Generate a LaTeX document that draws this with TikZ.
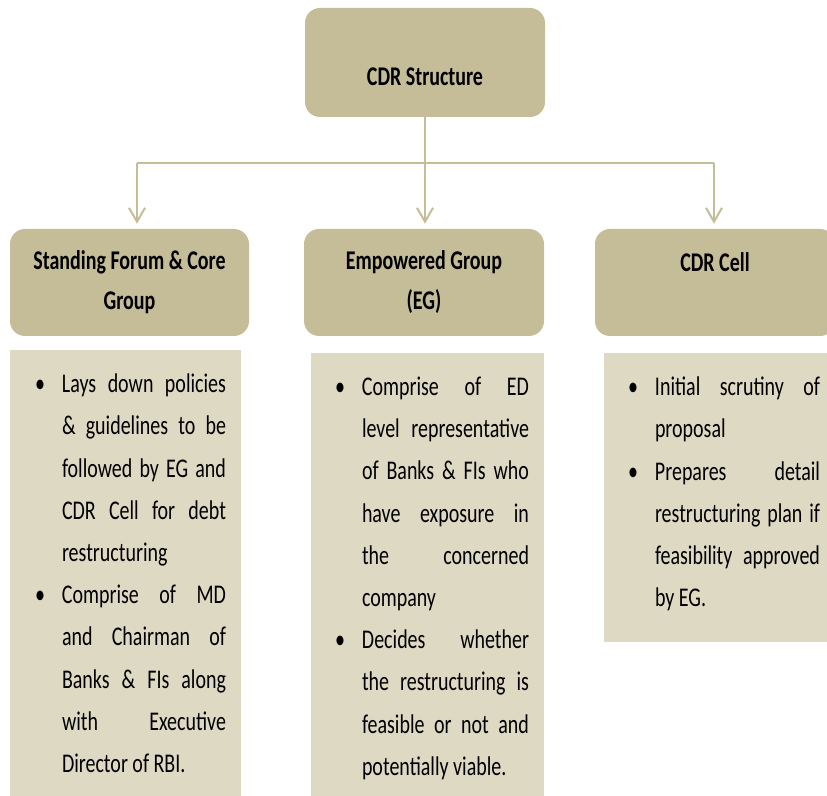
\documentclass[tikz,border=0pt]{standalone}
\usepackage{fontspec}
\setmainfont{Carlito}[FakeStretch=0.74]
\usetikzlibrary{arrows.meta}
\definecolor{hdrtan}{HTML}{C4BD97}
\definecolor{bodytan}{HTML}{DDD9C3}
\definecolor{linktan}{HTML}{C4BD97}
\newcommand{\bpt}{\hangindent=24pt\hangafter=0\noindent\llap{\textbullet\hspace{17pt}}}
\tolerance=9999 \hbadness=10000

\begin{document}
\begin{tikzpicture}[x=1pt,y=1pt,
  hdr/.style={fill=hdrtan,rounded corners=15pt,minimum width=240pt,inner sep=0pt,align=center,font=\bfseries\fontsize{27}{40}\selectfont},
  bodybox/.style={fill=bodytan,inner sep=0pt},
  bodytxt/.style={anchor=north west,inner sep=0pt,align=justify,font=\fontsize{27}{42.2}\selectfont},
  link/.style={linktan,line width=2pt},
  >={Straight Barb[length=14pt,width=16pt]}]
\useasboundingbox (0,0) rectangle (827,795);
\clip (0,0) rectangle (827,795);
\node[hdr,minimum height=109pt,text height=47pt,text depth=0pt] (cdr) at (425,732.5) {CDR Structure};
\node[hdr,minimum width=239pt,minimum height=107pt] (sfcg) at (129.5,512.5) {Standing Forum \& Core\\Group};
\node[hdr,minimum height=107pt] (eg) at (424,512.5) {Empowered Group\\(EG)};
\node[hdr,minimum height=107pt] (cell) at (715,512.5) {CDR Cell\\\mbox{}};
\coordinate (jl) at (137,632);
\coordinate (jr) at (714,632);
\draw[link,->,shorten >=5pt] (cdr.south) -- (cdr.south |- eg.north);
\draw[link] (jl) -- (jr);
\draw[link,->,shorten >=5pt] (jl) -- (jl |- sfcg.north);
\draw[link,->,shorten >=5pt] (jr) -- (jr |- cell.north);
\node[bodybox,minimum width=231pt,minimum height=465pt] (sfcgbody) at (125.5,212.5) {};
\node[bodybox,minimum width=233pt,minimum height=462pt] (egbody) at (427.5,211) {};
\node[bodybox,minimum width=233pt,minimum height=289pt] (cellbody) at (720.5,297.5) {};
\node[bodytxt,text width=188pt] (sfcgtxt) at ([xshift=28pt,yshift=-24pt]sfcgbody.north west) {%
\bpt Lays down policies\linebreak \& guidelines to be\linebreak followed by EG and\linebreak CDR Cell for debt\linebreak restructuring\par
\bpt Comprise of MD\linebreak and Chairman of\linebreak Banks \& FIs along\linebreak with Executive\linebreak Director of RBI.\par};
\node[bodytxt,text width=191pt] (egtxt) at ([xshift=27pt,yshift=-24pt]egbody.north west) {%
\bpt Comprise of ED\linebreak level representative\linebreak of Banks \& FIs who\linebreak have exposure in\linebreak the concerned\linebreak company\par
\bpt Decides whether\linebreak the restructuring is\linebreak feasible or not and\linebreak potentially viable.\par};
\node[bodytxt,text width=189pt] (celltxt) at ([xshift=27pt,yshift=-24pt]cellbody.north west) {%
\bpt Initial scrutiny of\linebreak proposal\par
\bpt Prepares detail\linebreak restructuring plan if\linebreak feasibility approved\linebreak by EG.\par};
\end{tikzpicture}
\end{document}
